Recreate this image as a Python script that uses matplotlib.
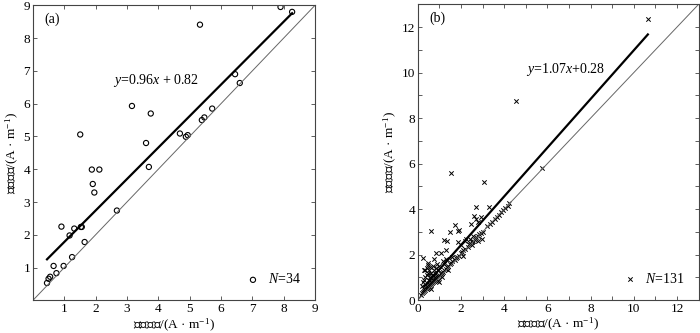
import matplotlib
matplotlib.use("Agg")
import matplotlib.pyplot as plt
from matplotlib.ticker import MultipleLocator
import numpy as np

plt.rcParams['font.family'] = ['Liberation Serif', 'Noto Sans CJK SC']
plt.rcParams['mathtext.fontset'] = 'custom'
plt.rcParams['mathtext.it'] = 'Liberation Serif:italic'
plt.rcParams['mathtext.rm'] = 'Liberation Serif'

# Panel (a) data: initial peak vs absolute peak (A/m)
a_x = [7.9, 8.27, 5.33, 6.45, 6.6, 5.72, 5.47, 5.39, 4.69, 4.94, 4.88, 3.16, 3.76, 1.51,
       3.61, 3.7, 1.88, 2.12, 1.91, 1.96, 2.68, 0.91, 1.17, 1.32, 1.53, 1.56, 1.65, 1.25,
       0.66, 0.98, 0.75, 0.55, 0.5, 0.45]
a_y = [8.95, 8.8, 8.41, 6.9, 6.63, 5.85, 5.58, 5.5, 5.09, 5.04, 4.99, 5.93, 5.7, 5.06,
       4.8, 4.07, 3.99, 3.99, 3.55, 3.29, 2.74, 2.25, 1.98, 2.19, 2.24, 2.24, 1.78, 1.32,
       1.05, 1.05, 0.83, 0.72, 0.66, 0.53]
a_fit = (0.96, 0.82)

# Panel (b) data
b_pts = [
    (0.15, 0.2), (0.2, 0.3), (0.25, 0.35), (0.3, 0.4), (0.3, 0.5), (0.35, 0.45), (0.4, 0.5),
    (0.4, 0.6), (0.45, 0.55), (0.5, 0.6), (0.5, 0.7), (0.55, 0.65), (0.6, 0.7), (0.6, 0.8),
    (0.65, 0.75), (0.7, 0.8), (0.7, 0.9), (0.75, 0.85), (0.8, 0.9), (0.8, 1.0), (0.85, 0.95),
    (0.9, 1.0), (0.95, 1.05), (1.0, 1.1), (1.05, 1.15), (1.1, 1.2), (1.15, 1.25), (1.2, 1.3),
    (1.3, 1.35), (1.35, 1.45), (1.4, 1.5), (1.5, 1.6), (1.55, 1.65), (1.6, 1.7), (1.7, 1.75),
    (1.75, 1.85), (1.8, 1.9), (1.9, 1.95), (2.0, 2.05), (2.05, 2.1), (2.1, 2.2), (2.2, 2.25),
    (2.3, 2.35), (2.35, 2.45), (2.4, 2.5), (2.5, 2.55), (2.55, 2.6), (2.65, 2.65), (2.7, 2.75),
    (2.8, 2.8), (2.9, 2.95), (3.0, 3.0), (3.2, 3.25), (3.35, 3.35), (3.45, 3.45), (3.55, 3.55),
    (3.65, 3.65), (3.75, 3.75), (3.85, 3.85), (3.95, 3.95), (4.05, 4.05), (4.15, 4.15),
    (4.2, 4.25), (5.75, 5.8),
    (0.2, 0.6), (0.25, 0.8), (0.3, 0.9), (0.3, 1.3), (0.35, 1.0), (0.4, 1.1), (0.4, 1.4),
    (0.45, 1.2), (0.45, 1.55), (0.5, 0.9), (0.5, 1.3), (0.55, 1.0), (0.6, 1.2), (0.65, 1.1),
    (0.7, 1.5), (0.75, 1.3), (0.8, 1.2), (0.85, 1.4), (0.9, 1.6), (0.95, 1.3), (1.0, 1.5),
    (1.05, 2.05), (0.85, 2.05), (0.25, 1.85), (0.35, 1.3), (0.45, 1.65), (1.2, 1.6),
    (1.3, 2.2), (1.35, 2.6), (1.5, 3.0), (1.55, 5.6), (1.7, 3.3), (1.85, 3.05), (1.9, 3.1),
    (1.85, 2.55), (1.6, 1.9), (2.0, 2.4), (2.2, 2.6), (2.4, 2.7), (2.45, 3.35), (2.6, 3.7),
    (2.7, 4.1), (2.7, 3.55), (2.8, 3.45), (2.9, 3.65), (2.85, 2.9), (2.95, 2.7), (2.8, 2.6),
    (2.55, 2.8), (3.05, 5.2), (3.3, 4.1), (4.55, 8.75), (10.65, 12.35), (1.3, 1.8), (1.15, 1.7),
    (0.95, 0.85), (1.0, 0.8), (1.1, 1.0), (0.6, 0.5), (1.4, 1.3), (2.1, 1.95),
    (0.62, 3.02), (1.22, 2.65), (2.5, 2.4), (2.25, 2.7), (0.75, 1.8), (0.55, 1.45),
]
b_x = [p[0] for p in b_pts]
b_y = [p[1] for p in b_pts]
b_fit = (1.07, 0.28)

fig = plt.figure(figsize=(7.0, 3.33), dpi=100)
axa = fig.add_axes([0.047, 0.098, 0.403, 0.886])
axb = fig.add_axes([0.597, 0.099, 0.401, 0.888])

tick_fs = 9.5
lab_fs = 9.5

def style(ax, lim, major, minor):
    ax.set_xlim(0, lim)
    ax.set_ylim(0, lim)
    ax.xaxis.set_major_locator(MultipleLocator(major))
    ax.yaxis.set_major_locator(MultipleLocator(major))
    if minor:
        ax.xaxis.set_minor_locator(MultipleLocator(minor))
        ax.yaxis.set_minor_locator(MultipleLocator(minor))
    ax.tick_params(which='both', direction='in', top=True, right=True, labelsize=tick_fs,
                   width=0.6, color='#444444', pad=2)
    ax.tick_params(which='major', length=3)
    ax.tick_params(which='minor', length=3)
    for s in ax.spines.values():
        s.set_linewidth(0.8)
        s.set_color('#444444')
    ax.set_xlabel('初始峰值/(A · m$^{-1}$)', fontsize=lab_fs, labelpad=1)
    ax.set_ylabel('绝对峰值/(A · m$^{-1}$)', fontsize=lab_fs, labelpad=2)

style(axa, 9, 1, None)
style(axb, 13, 2, 1)

# hide 0 labels in (a)
axa.set_xticks(range(0, 10))
axa.set_yticks(range(0, 10))
axa.set_xticklabels([''] + [str(i) for i in range(1, 10)])
axa.set_yticklabels([''] + [str(i) for i in range(1, 10)])
axb.set_xticks(range(0, 13, 2))
axb.set_yticks(range(0, 13, 2))

# panel a
axa.plot([0, 9], [0, 9], color='#666666', lw=0.7)
xa = np.array([min(a_x), max(a_x)])
axa.plot(xa, a_fit[0] * xa + a_fit[1], color='black', lw=1.6)
sa = axa.scatter(a_x, a_y, s=14, facecolors='none', edgecolors='black', linewidths=0.8)
axa.text(2.55, 6.72, '$y$=0.96$x$ + 0.82', fontsize=10, va='center')
axa.text(0.04, 0.975, '(a)', transform=axa.transAxes, fontsize=10, va='top', ha='left')
axa.legend([sa], ['$N$=34'], loc='lower right', frameon=False, fontsize=10,
           handletextpad=0.1, borderaxespad=0.6, scatterpoints=1)

# panel b
axb.plot([0, 13], [0, 13], color='#666666', lw=0.7)
xb = np.array([0.3, max(b_x)])
axb.plot(xb, b_fit[0] * xb + b_fit[1], color='black', lw=1.6)
sb = axb.scatter(b_x, b_y, s=10, marker='x', color='black', linewidths=0.7)
axb.text(5.0, 10.15, '$y$=1.07$x$+0.28', fontsize=10, va='center')
axb.text(0.04, 0.975, '(b)', transform=axb.transAxes, fontsize=10, va='top', ha='left')
axb.legend([sb], ['$N$=131'], loc='lower right', frameon=False, fontsize=10,
           handletextpad=0.1, borderaxespad=0.6, scatterpoints=1)

fig.savefig('out.png', dpi=100)
